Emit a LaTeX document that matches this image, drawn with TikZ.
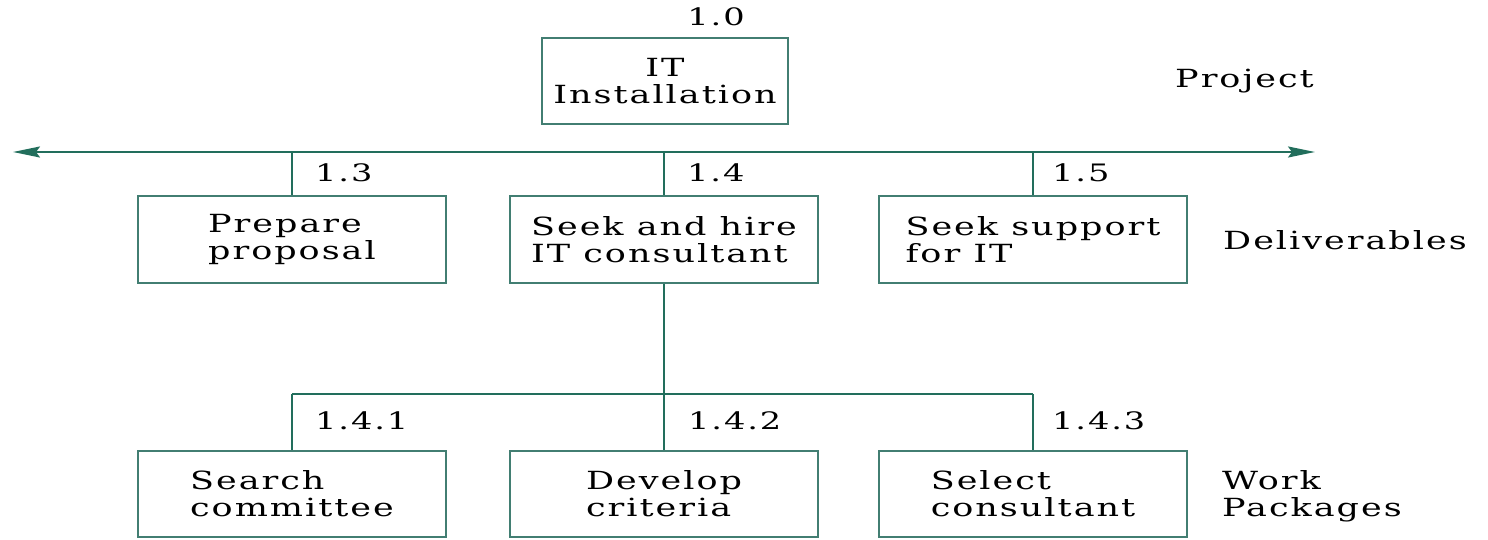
\documentclass[tikz,border=0pt]{standalone}
\usepackage{fontspec}
\setmainfont{DejaVu Serif}[FakeStretch=1.4,LetterSpace=8]
\usetikzlibrary{arrows.meta}
\definecolor{linec}{RGB}{34,110,92}
\definecolor{boxc}{RGB}{66,126,114}
\tikzset{
  wbox/.style={draw=boxc, line width=2pt, rectangle, minimum width=308pt, minimum height=86pt, align=left, inner sep=0pt, font=\fontsize{25}{27}\selectfont},
  conn/.style={draw=linec, line width=2pt},
  num/.style={anchor=west, inner sep=0pt, font=\fontsize{24}{26}\selectfont},
  cat/.style={anchor=west, inner sep=0pt, align=left, font=\fontsize{25}{27}\selectfont},
}
\begin{document}
\begin{tikzpicture}[x=1pt,y=-1pt]
\useasboundingbox (0,0) rectangle (1488,540);
% project
\node[wbox, minimum width=246pt, align=center] (top) at (665,81) {IT\\Installation};
\node[num, anchor=center] (n10) at (716,17) {1.0};
\node[cat] (lproj) at (1175,81) {Project};
% bar
\coordinate (L) at (13,152);
\coordinate (R) at (1315,152);
\draw[conn, {Stealth[length=27pt,width=11pt,inset=4pt]}-{Stealth[length=27pt,width=11pt,inset=4pt]}] (L) -- (R);
\coordinate (b1) at (292,152);
\coordinate (b2) at (664,152);
\coordinate (b3) at (1033,152);
% deliverables
\node[wbox] (d1) at (292,239.5) {Prepare\\proposal};
\node[wbox] (d2) at (664,239.5) {Seek and hire\\IT consultant};
\node[wbox] (d3) at (1033,239.5) {Seek support\\for IT};
\draw[conn] (b1) -- (d1.north);
\draw[conn] (b2) -- (d2.north);
\draw[conn] (b3) -- (d3.north);
\node[num] (n13) at (315,173) {1.3};
\node[num] (n14) at (687,173) {1.4};
\node[num] (n15) at (1052,173) {1.5};
\node[cat] (ldel) at (1223,240) {Deliverables};
% work packages
\coordinate (j1) at (292,394);
\coordinate (j2) at (664,394);
\coordinate (j3) at (1033,394);
\node[wbox] (w1) at (292,494) {Search\\committee};
\node[wbox] (w2) at (664,494) {Develop\\criteria};
\node[wbox] (w3) at (1033,494) {Select\\consultant};
\draw[conn] (d2.south) -- (j2);
\draw[conn] (j1) -- (j3);
\draw[conn] (j1) -- (w1.north);
\draw[conn] (j2) -- (w2.north);
\draw[conn] (j3) -- (w3.north);
\node[num] (n141) at (315,421) {1.4.1};
\node[num] (n142) at (688,421) {1.4.2};
\node[num] (n143) at (1052,421) {1.4.3};
\node[cat] (lwp) at (1222,496) {Work\\Packages};
\end{tikzpicture}
\end{document}
